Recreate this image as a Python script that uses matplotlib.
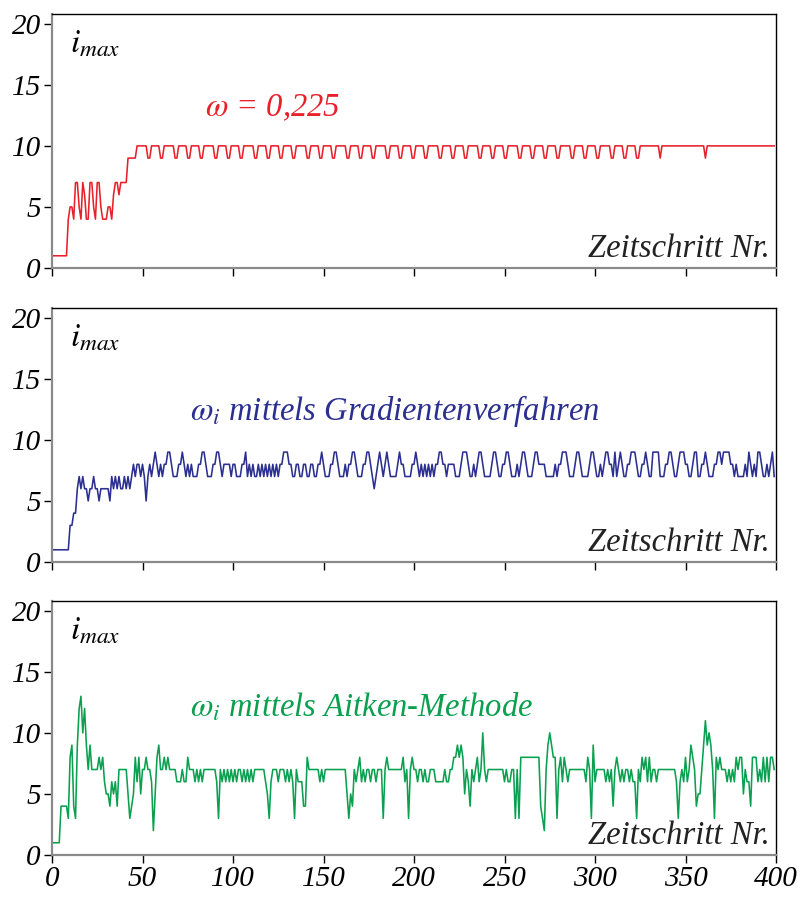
import numpy as np
import matplotlib.pyplot as plt

plt.rcParams['font.family'] = ['Liberation Serif', 'DejaVu Serif']
plt.rcParams['mathtext.fontset'] = 'stix'

# i_max per time step, one hex digit per step (a = 10, b = 11, ...), 10 steps per chunk
imax_fixed = [
    "1111111114", "5547754764", "4775477544", "4554677677", "7799999aaa",
    "aaa99aaaaa", "99aaaaaa99", "aaaaa99aaa", "aa99aaaaaa", "99aaaaa99a",
    "aaaa99aaaa", "aa99aaaaa9", "9aaaaa99aa", "aaa99aaaaa", "a99aaaaa99",
    "aaaaa99aaa", "aaa99aaaaa", "99aaaaa99a", "aaaaa99aaa", "aa99aaaaa9",
    "9aaaaa99aa", "aaaa99aaaa", "a99aaaaa99", "aaaaaa99aa", "aaa99aaaaa",
    "99aaaaaa99", "aaaaa99aaa", "aa99aaaaa9", "9aaaaaa99a", "aaaa99aaaa",
    "a99aaaaaa9", "9aaaaa99aa", "aaa99aaaaa", "aaaaaa9aaa", "aaaaaaaaaa",
    "aaaaaaaaaa", "a9aaaaaaaa", "aaaaaaaaaa", "aaaaaaaaaa", "aaaaaaaaaa",
]
imax_gradient = [
    "1111111111", "3344676766", "5667665666", "6657676766", "7676787887",
    "8757878987", "8788998777", "8898787877", "7889987778", "8998788887",
    "8877788978", "7877878787", "8787878899", "9887788778", "8778877889",
    "8777889987", "7787889987", "7788998767", "8987898777", "7898877778",
    "8987878787", "8788998878", "8887778999", "8778789987", "7778998778",
    "8998777878", "9987778998", "8887777787", "8899987778", "9987777899",
    "8778789988", "7978987788", "9998778898", "7799997778", "8998778999",
    "8877899778", "8987778899", "8999988787", "7778798787", "9987787897",
]
imax_aitken = [
    "1111144443", "89439cdac9", "7977778786", "5546564777", "7753458685",
    "7787762589", "7787877776", "6676687776", "7676777777", "7637676767",
    "6767767676", "7677777765", "3677767776", "7676376664", "4877777767",
    "6777777777", "7775354767", "8676776776", "7773787777", "7777867378",
    "7767767667", "7766666766", "7788989857", "64767867a7", "6777777777",
    "6766773738", "8888888888", "43279a9883", "7868767777", "7777768739",
    "6777776767", "4787676776", "7663768786", "8677677777", "7777763676",
    "8679874557", "9b9a973878", "7776767687", "8857664888", "6768686887",
]

labels = [r"$\omega$ = 0,225",
          r"$\omega_i$ mittels Gradientenverfahren",
          r"$\omega_i$ mittels Aitken-Methode"]
colors = ["#e8202a", "#2b2f8f", "#0aa050"]
label_y = [0.63, 0.595, 0.58]


def decode(chunks):
    return np.array([int(c, 16) for c in "".join(chunks)])


series = [decode(imax_fixed), decode(imax_gradient), decode(imax_aitken)]
steps = np.arange(len(series[0]))

fig = plt.figure(figsize=(8, 9.01), dpi=100)
tops = [14, 308, 601]
h = 254
for k, (y, lab, col) in enumerate(zip(series, labels, colors)):
    ax = fig.add_axes([52 / 800, 1 - (tops[k] + h) / 901, 724 / 800, h / 901])
    ax.plot(steps, y, color=col, lw=1.15)
    ax.set_xlim(0, 400)
    ax.set_ylim(0, 20.8)
    ax.set_xticks(np.arange(0, 401, 50))
    ax.set_yticks([0, 5, 10, 15, 20])
    ax.tick_params(direction='out', length=6, width=1, labelsize=21, pad=2)
    for t in ax.get_yticklabels() + ax.get_xticklabels():
        t.set_fontstyle('italic')
    if k < 2:
        ax.set_xticklabels([])
    for s in ['left', 'bottom']:
        ax.spines[s].set_color('#8a8a8a')
        ax.spines[s].set_linewidth(1.6)
    for s in ['top', 'right']:
        ax.spines[s].set_color('black')
        ax.spines[s].set_linewidth(1.0)
    ax.text(0.025, 0.88, r"$i_{max}$", transform=ax.transAxes,
            fontsize=24, va='center', ha='left')
    ax.text(0.19 if k else 0.211, label_y[k], lab, transform=ax.transAxes,
            fontsize=23.5, style='italic', color=col, va='center', ha='left')
    ax.text(0.992, 0.075, "Zeitschritt Nr.", transform=ax.transAxes,
            fontsize=23.5, style='italic', color='#222222', va='center', ha='right')

fig.savefig("out.png", dpi=100)
